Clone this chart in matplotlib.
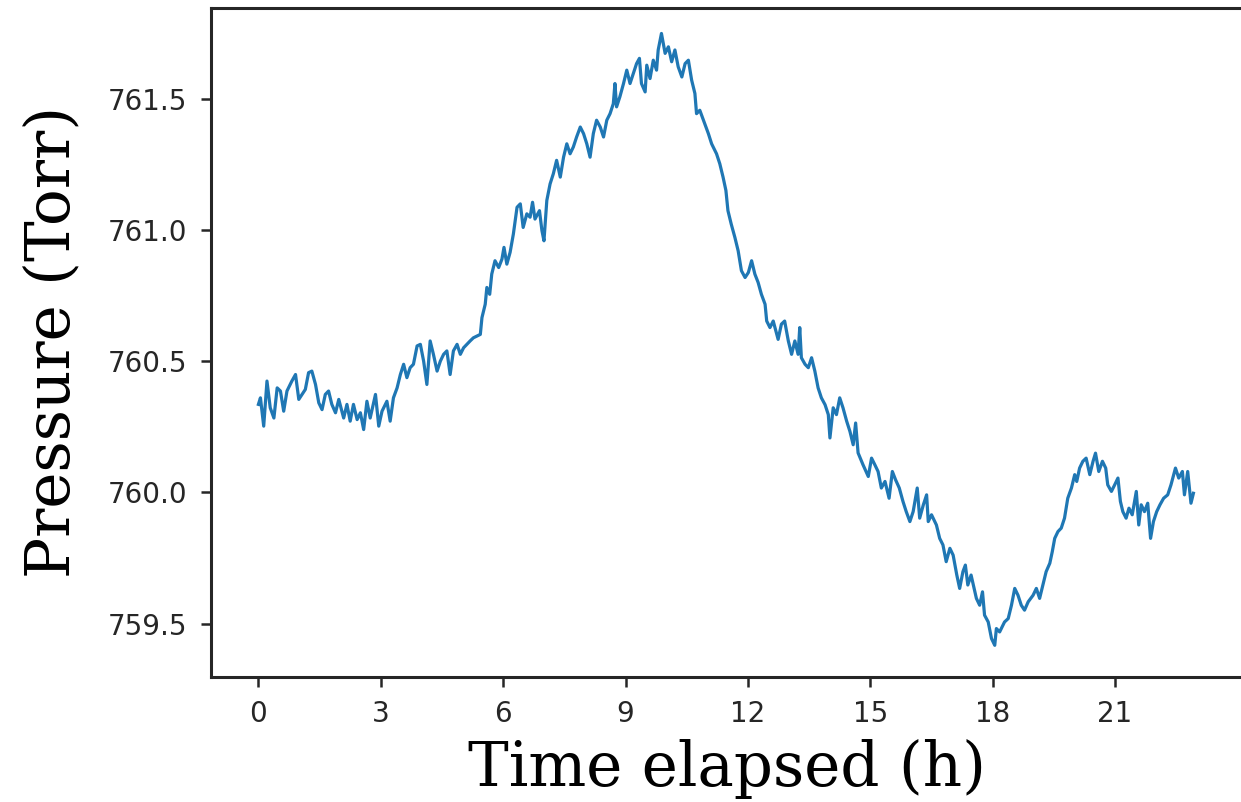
import numpy as np
import matplotlib
matplotlib.use('Agg')
import matplotlib.pyplot as plt

# tempo (h)
hours = [0.00, 0.05, 0.13, 0.21, 0.29, 0.38, 0.46, 0.54, 0.62, 0.70, 0.82, 0.91, 0.99, 1.07,
         1.15, 1.23, 1.31, 1.40, 1.48, 1.56, 1.64, 1.72, 1.80, 1.89, 1.97, 2.09, 2.17, 2.25,
         2.33, 2.42, 2.50, 2.58, 2.66, 2.74, 2.87, 2.95, 3.03, 3.15, 3.23, 3.31, 3.40, 3.48,
         3.56, 3.64, 3.72, 3.80, 3.89, 3.97, 4.05, 4.13, 4.21, 4.29, 4.38, 4.46, 4.54, 4.62,
         4.70, 4.78, 4.87, 4.95, 5.03, 5.19, 5.27,
         5.44, 5.48, 5.56, 5.60, 5.67, 5.72, 5.80, 5.89, 5.97, 6.02, 6.09, 6.17, 6.25, 6.34,
         6.42, 6.49, 6.58, 6.66, 6.72, 6.78, 6.89, 6.95, 7.00,
         7.07, 7.15, 7.23, 7.31, 7.40, 7.48, 7.56, 7.64, 7.72, 7.80, 7.89, 7.97, 8.05, 8.13,
         8.21, 8.29,
         8.38, 8.46, 8.54, 8.62, 8.70, 8.74, 8.78, 8.86, 8.95, 9.03, 9.11, 9.19, 9.27, 9.34,
         9.39, 9.48, 9.52, 9.60, 9.68, 9.76, 9.80, 9.88, 9.97, 10.05, 10.13, 10.21, 10.29,
         10.38, 10.46, 10.54, 10.62, 10.70, 10.74,
         10.82, 10.91, 11.03, 11.11, 11.23, 11.31, 11.39, 11.46, 11.51, 11.59, 11.68, 11.76,
         11.84, 11.93, 12.01, 12.09, 12.17, 12.25, 12.33, 12.42, 12.46, 12.54, 12.62, 12.74,
         12.82, 12.90, 12.99, 13.07, 13.15, 13.23, 13.27, 13.31, 13.40, 13.48, 13.56, 13.64,
         13.72, 13.80, 13.89, 13.97, 14.01, 14.09, 14.17, 14.25, 14.33, 14.42, 14.50, 14.58,
         14.64,
         14.70, 14.82, 14.95, 15.03, 15.11, 15.19, 15.27, 15.36, 15.46, 15.54, 15.62, 15.71,
         15.80, 15.88, 15.97, 16.05, 16.15, 16.21, 16.30, 16.38, 16.42, 16.50, 16.62, 16.70,
         16.78, 16.86, 16.95, 17.03, 17.12, 17.19, 17.27, 17.33, 17.39, 17.47, 17.60, 17.68,
         17.75, 17.80, 17.89, 17.97, 18.05,
         18.09, 18.17, 18.29, 18.38, 18.46, 18.54, 18.62, 18.70, 18.78, 18.87, 18.99, 19.07,
         19.15, 19.23, 19.31, 19.40, 19.46, 19.52, 19.60, 19.68, 19.76, 19.84, 19.93, 20.01,
         20.06, 20.13, 20.21, 20.29, 20.38, 20.46, 20.52, 20.60, 20.69, 20.77, 20.82, 20.91,
         20.99, 21.07, 21.13, 21.19, 21.27, 21.34, 21.42, 21.52, 21.58, 21.64, 21.72, 21.80,
         21.87, 21.94, 22.02, 22.10, 22.19, 22.29, 22.37, 22.48, 22.56, 22.65, 22.70, 22.78,
         22.86, 22.92]

# pressao (Torr)
pressure = [760.336, 760.361, 760.253, 760.425, 760.323, 760.284, 760.399, 760.387, 760.310,
            760.387, 760.425, 760.450, 760.355, 760.374, 760.393, 760.457, 760.463, 760.412,
            760.342, 760.316, 760.374, 760.387, 760.336, 760.304, 760.355, 760.284, 760.336,
            760.272, 760.336, 760.278, 760.304, 760.240, 760.348, 760.284, 760.374, 760.253,
            760.310, 760.348, 760.272, 760.361, 760.399, 760.450, 760.489, 760.438, 760.476,
            760.489, 760.559, 760.565, 760.501, 760.412, 760.578, 760.527, 760.463, 760.501,
            760.527, 760.540, 760.450, 760.540, 760.565, 760.527, 760.552, 760.578, 760.590,
            760.603, 760.667, 760.718, 760.782, 760.756, 760.833, 760.884, 760.858, 760.890,
            760.935, 760.871, 760.916, 760.986, 761.088, 761.101, 761.011, 761.063, 761.050,
            761.107, 761.043, 761.075, 760.999, 760.960,
            761.114, 761.177, 761.216, 761.267, 761.203, 761.279, 761.330, 761.292, 761.318,
            761.356, 761.394, 761.369, 761.330, 761.279, 761.369, 761.420,
            761.394, 761.356, 761.420, 761.445, 761.483, 761.560, 761.471, 761.509, 761.560,
            761.611, 761.560, 761.598, 761.636, 761.656, 761.560, 761.528, 761.630, 761.579,
            761.649, 761.611, 761.688, 761.751, 761.675, 761.700, 761.643, 761.688, 761.624,
            761.585, 761.636, 761.649, 761.573, 761.522, 761.445,
            761.458, 761.420, 761.369, 761.330, 761.292, 761.254, 761.203, 761.152, 761.075,
            761.024, 760.973, 760.922, 760.846, 760.820, 760.839, 760.884, 760.833, 760.801,
            760.756, 760.718, 760.654, 760.629, 760.654, 760.584, 760.642, 760.654, 760.578,
            760.527, 760.578, 760.527, 760.629, 760.514, 760.489, 760.476, 760.514, 760.463,
            760.399, 760.361, 760.335, 760.297, 760.208, 760.323, 760.297, 760.361, 760.323,
            760.272, 760.233, 760.182, 760.265,
            760.151, 760.106, 760.061, 760.131, 760.106, 760.080, 760.017, 760.042, 759.978,
            760.080, 760.048, 760.017, 759.966, 759.927, 759.889, 759.927, 760.017, 759.902,
            759.953, 759.991, 759.889, 759.915, 759.876, 759.825, 759.800, 759.736, 759.787,
            759.761, 759.685, 759.634, 759.698, 759.723, 759.647, 759.685, 759.596, 759.570,
            759.621, 759.532, 759.506, 759.443, 759.417,
            759.481, 759.468, 759.506, 759.519, 759.570, 759.634, 759.608, 759.570, 759.551,
            759.583, 759.608, 759.634, 759.596, 759.647, 759.698, 759.730, 759.774, 759.825,
            759.851, 759.864, 759.902, 759.978, 760.017, 760.068, 760.042, 760.093, 760.119,
            760.131, 760.068, 760.119, 760.150, 760.080, 760.119, 760.093, 760.029, 760.004,
            760.029, 760.055, 759.966, 759.927, 759.902, 759.940, 759.915, 760.004, 759.876,
            759.953, 759.927, 759.959, 759.825, 759.889, 759.927, 759.953, 759.978, 759.991,
            760.029, 760.093, 760.055, 760.080, 759.991, 760.080, 759.959, 759.997]

xticks = [0, 3, 6, 9, 12, 15, 18, 21]
yticks = [759.5, 760.0, 760.5, 761.0, 761.5]

fig = plt.figure(figsize=(12.41, 8.02), dpi=100)
ax = fig.add_axes([211 / 1241, 1 - 676.5 / 802, 1033 / 1241, 669 / 802])

ax.plot(hours, pressure, color='#1f77b4', linewidth=2.3)

ax.set_xlim(-1.162, 24.16)
ax.set_ylim(759.298, 761.850)
ax.set_xticks(xticks)
ax.set_yticks(yticks)
ax.set_yticklabels(['%.1f' % v for v in yticks])

for s in ax.spines.values():
    s.set_linewidth(2.2)
    s.set_color('#262626')
ax.tick_params(axis='both', labelsize=20, length=7, width=1.8, pad=10,
               color='#262626', labelcolor='#262626')

ax.set_xlabel('Time elapsed (h)', family='DejaVu Serif', fontsize=44, labelpad=8)
ax.set_ylabel('Pressure (Torr)', family='DejaVu Serif', fontsize=44, labelpad=18)

fig.savefig('out.png', dpi=100)
